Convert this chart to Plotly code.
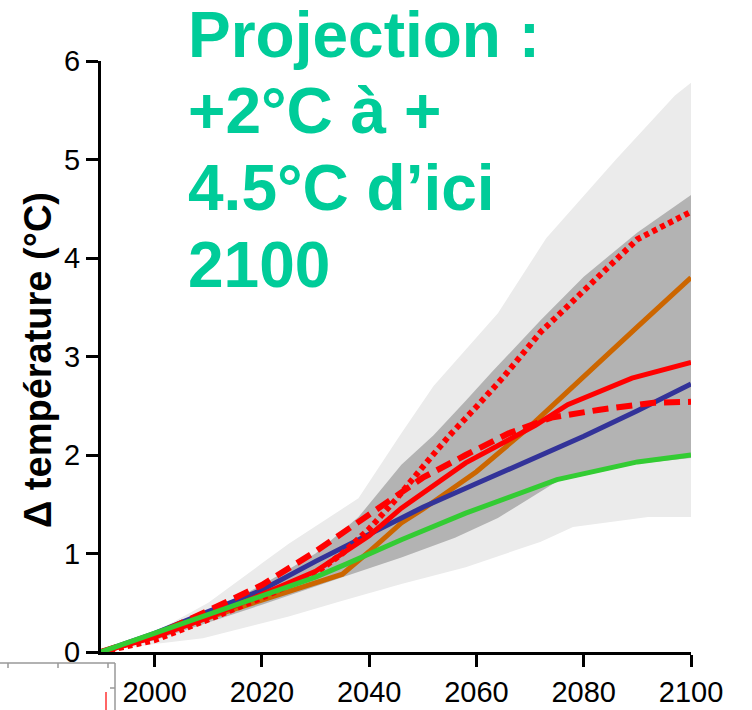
import plotly.graph_objects as go

# ---------------- data ----------------
light_upper_years = [1990, 2000, 2010, 2020, 2025, 2038, 2046, 2052, 2064, 2073, 2086, 2097, 2100]
light_upper_vals = [0, 0.2, 0.5, 0.9, 1.1, 1.56, 2.22, 2.7, 3.44, 4.2, 5.0, 5.65, 5.78]
light_lower_years = [1990, 2000, 2009, 2025, 2035, 2046, 2058, 2072, 2078, 2092, 2100]
light_lower_vals = [0, 0.08, 0.14, 0.36, 0.52, 0.69, 0.86, 1.12, 1.27, 1.37, 1.37]

dark_upper_years = [1990, 2000, 2010, 2020, 2030, 2038, 2046, 2052, 2058, 2063, 2072, 2080, 2090, 2100]
dark_upper_vals = [0, 0.17, 0.4, 0.68, 1.0, 1.37, 1.9, 2.2, 2.55, 2.85, 3.37, 3.81, 4.26, 4.64]
dark_lower_years = [1990, 2000, 2010, 2020, 2035, 2046, 2056, 2064, 2075, 2090, 2100]
dark_lower_vals = [0, 0.12, 0.3, 0.48, 0.76, 0.96, 1.16, 1.36, 1.73, 1.91, 1.97]

orange_years = [1990, 2000, 2010, 2020, 2035, 2040, 2046, 2050, 2060, 2070, 2080, 2090, 2100]
orange_vals = [0, 0.16, 0.35, 0.53, 0.79, 1.02, 1.31, 1.45, 1.83, 2.29, 2.8, 3.3, 3.8]

blue_years = [1990, 2000, 2010, 2020, 2030, 2040, 2050, 2060, 2070, 2080, 2090, 2100]
blue_vals = [0, 0.19, 0.41, 0.63, 0.92, 1.2, 1.47, 1.71, 1.95, 2.19, 2.45, 2.72]

red_years = [1990, 2000, 2010, 2020, 2030, 2040, 2046, 2058, 2071, 2077, 2089, 2100]
red_vals = [0, 0.15, 0.35, 0.58, 0.82, 1.18, 1.46, 1.92, 2.3, 2.51, 2.78, 2.94]

dash_years = [1990, 2000, 2010, 2020, 2030, 2040, 2046, 2050, 2058, 2066, 2074, 2083, 2093, 2100]
dash_vals = [0, 0.17, 0.42, 0.68, 1.02, 1.39, 1.61, 1.77, 2.0, 2.22, 2.38, 2.46, 2.53, 2.54]

dot_years = [1990, 2000, 2010, 2020, 2030, 2035, 2040, 2045, 2050, 2055, 2060, 2065, 2072, 2080, 2090, 2100]
dot_vals = [0, 0.12, 0.33, 0.55, 0.8, 1.0, 1.25, 1.55, 1.88, 2.2, 2.49, 2.79, 3.25, 3.67, 4.19, 4.47]

green_years = [1990, 2000, 2010, 2020, 2030, 2036, 2046, 2058, 2075, 2090, 2100]
green_vals = [0, 0.19, 0.38, 0.57, 0.76, 0.9, 1.14, 1.41, 1.75, 1.93, 2.0]

x_ticks = [2000, 2020, 2040, 2060, 2080, 2100]
y_ticks = [0, 1, 2, 3, 4, 5, 6]

title_lines = ["Projection :", "+2°C à +", "4.5°C d’ici", "2100"]
y_title = "Δ température (°C)"

# ---------------- layout geometry ----------------
W, H = 752, 710
L, R, T, B = 101, 691, 61, 652
PW, PH = R - L, B - T


def px(xp):
    return (xp - L) / PW


def py(yp):
    return (B - yp) / PH


FONT = "Liberation Sans, Arial, Helvetica, sans-serif"

fig = go.Figure()


def band(xu, yu, xl, yl, color):
    fig.add_trace(go.Scatter(
        x=list(xu) + list(xl)[::-1],
        y=list(yu) + list(yl)[::-1],
        fill="toself", fillcolor=color, mode="none",
        line=dict(width=0), hoverinfo="skip", showlegend=False))


band(light_upper_years, light_upper_vals, light_lower_years, light_lower_vals, "#EBEBEB")
band(dark_upper_years, dark_upper_vals, dark_lower_years, dark_lower_vals, "#B3B3B3")


def line(xs, ys, color, width=5, dash="solid"):
    fig.add_trace(go.Scatter(x=xs, y=ys, mode="lines",
                             line=dict(color=color, width=width, dash=dash),
                             hoverinfo="skip", showlegend=False))


line(orange_years, orange_vals, "#CC6600")
line(blue_years, blue_vals, "#333399")
line(red_years, red_vals, "#FF0000")
line(dash_years, dash_vals, "#FF0000", width=6, dash="16px,8px")
line(dot_years, dot_vals, "#FF0000", width=6, dash="5px,4px")
line(green_years, green_vals, "#33CC33")

# title lines
centers = [35, 111, 188, 265]
annotations = []
for txt, cy in zip(title_lines, centers):
    annotations.append(dict(
        text=txt, xref="paper", yref="paper", x=px(187), y=py(cy),
        xanchor="left", yanchor="middle", showarrow=False, borderpad=0,
        font=dict(family=FONT, size=64, color="#00CC99", weight="bold")))

annotations.append(dict(
    text=y_title, xref="paper", yref="paper", x=px(38), y=py(360),
    xanchor="center", yanchor="middle", textangle=-90, showarrow=False,
    font=dict(family=FONT, size=38, color="black", weight="bold")))

# remnants of neighbouring figure in the bottom-left corner
shapes = []
g = dict(color="#999999", width=1.5)
shapes.append(dict(type="line", xref="paper", yref="paper",
                   x0=px(0), x1=px(115), y0=py(663), y1=py(663), line=g))
for tx in [8, 58, 108]:
    shapes.append(dict(type="line", xref="paper", yref="paper",
                       x0=px(tx), x1=px(tx), y0=py(663), y1=py(668), line=g))
shapes.append(dict(type="line", xref="paper", yref="paper",
                   x0=px(115), x1=px(115), y0=py(663), y1=py(710), line=g))
shapes.append(dict(type="line", xref="paper", yref="paper",
                   x0=px(110), x1=px(115), y0=py(688), y1=py(688), line=g))
shapes.append(dict(type="line", xref="paper", yref="paper",
                   x0=px(106), x1=px(106), y0=py(692), y1=py(710),
                   line=dict(color="#FF3333", width=1.5)))

fig.update_layout(
    width=W, height=H,
    margin=dict(l=L, r=W - R, t=T, b=H - B, pad=0, autoexpand=False),
    paper_bgcolor="white", plot_bgcolor="white",
    annotations=annotations, shapes=shapes,
    font=dict(family=FONT, color="black"),
    xaxis=dict(range=[1990, 2100], tickvals=x_ticks, ticktext=[str(v) for v in x_ticks],
               automargin=False,
               showgrid=False, zeroline=False, showline=True, linecolor="black", linewidth=3,
               ticks="outside", ticklen=12, tickwidth=3, tickcolor="black",
               tickfont=dict(family=FONT, size=29, color="black")),
    yaxis=dict(range=[0, 6], tickvals=y_ticks, ticktext=[str(v) for v in y_ticks],
               automargin=False,
               showgrid=False, zeroline=False, showline=True, linecolor="black", linewidth=3,
               ticks="outside", ticklen=12, tickwidth=3, tickcolor="black",
               tickfont=dict(family=FONT, size=29, color="black")),
)

fig.write_html("out.html", config={"displayModeBar": False},
               post_script="document.body.style.margin='0';document.body.style.overflow='hidden';")
